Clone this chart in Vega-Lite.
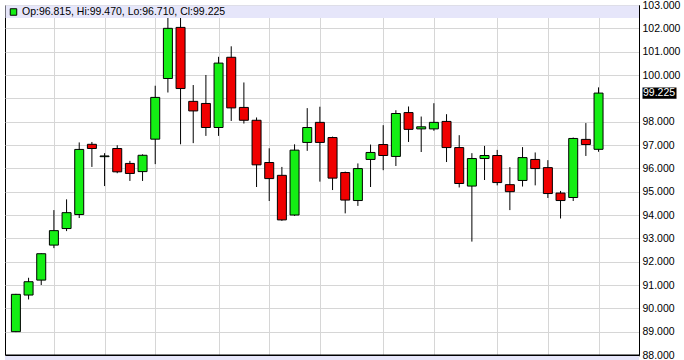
{
  "$schema": "https://vega.github.io/schema/vega-lite/v6.json",
  "width": 634,
  "height": 350,
  "autosize": {"type": "none"},
  "padding": {"left": 5, "top": 5, "right": 45, "bottom": 5},
  "background": "white",
  "config": {"view": {"stroke": "black", "strokeWidth": 1}, "font": "Liberation Sans"},
  "datasets": {
    "ohlc": [
      {"i": 0, "o": 89.00, "h": 90.62, "l": 88.98, "c": 90.60},
      {"i": 1, "o": 90.57, "h": 91.31, "l": 90.38, "c": 91.14},
      {"i": 2, "o": 91.21, "h": 92.36, "l": 91.00, "c": 92.34},
      {"i": 3, "o": 92.71, "h": 94.21, "l": 92.58, "c": 93.33},
      {"i": 4, "o": 93.42, "h": 94.67, "l": 93.31, "c": 94.10},
      {"i": 5, "o": 94.02, "h": 97.11, "l": 93.87, "c": 96.81},
      {"i": 6, "o": 97.03, "h": 97.13, "l": 96.06, "c": 96.85},
      {"i": 7, "o": 96.50, "h": 96.65, "l": 95.24, "c": 96.53},
      {"i": 8, "o": 96.85, "h": 96.99, "l": 95.79, "c": 95.85},
      {"i": 9, "o": 96.21, "h": 96.32, "l": 95.46, "c": 95.78},
      {"i": 10, "o": 95.86, "h": 96.60, "l": 95.46, "c": 96.56},
      {"i": 11, "o": 97.25, "h": 99.54, "l": 96.18, "c": 99.04},
      {"i": 12, "o": 99.85, "h": 102.45, "l": 99.25, "c": 102.00},
      {"i": 13, "o": 102.04, "h": 102.55, "l": 97.03, "c": 99.42},
      {"i": 14, "o": 98.87, "h": 99.57, "l": 97.08, "c": 98.46},
      {"i": 15, "o": 98.78, "h": 100.00, "l": 97.39, "c": 97.75},
      {"i": 16, "o": 97.75, "h": 100.78, "l": 97.39, "c": 100.51},
      {"i": 17, "o": 100.76, "h": 101.23, "l": 98.03, "c": 98.59},
      {"i": 18, "o": 98.61, "h": 99.68, "l": 97.92, "c": 98.06},
      {"i": 19, "o": 98.06, "h": 98.18, "l": 95.20, "c": 96.15},
      {"i": 20, "o": 96.25, "h": 96.86, "l": 94.60, "c": 95.56},
      {"i": 21, "o": 95.70, "h": 96.06, "l": 93.75, "c": 93.79},
      {"i": 22, "o": 94.00, "h": 97.03, "l": 93.96, "c": 96.78},
      {"i": 23, "o": 97.11, "h": 98.58, "l": 96.75, "c": 97.75},
      {"i": 24, "o": 97.97, "h": 98.64, "l": 95.43, "c": 97.11},
      {"i": 25, "o": 97.32, "h": 97.36, "l": 95.07, "c": 95.58},
      {"i": 26, "o": 95.82, "h": 95.86, "l": 94.07, "c": 94.64},
      {"i": 27, "o": 94.62, "h": 96.21, "l": 94.39, "c": 95.99},
      {"i": 28, "o": 96.38, "h": 97.02, "l": 95.20, "c": 96.68},
      {"i": 29, "o": 97.02, "h": 97.85, "l": 95.92, "c": 96.55},
      {"i": 30, "o": 96.51, "h": 98.49, "l": 96.10, "c": 98.35},
      {"i": 31, "o": 98.39, "h": 98.65, "l": 97.13, "c": 97.67},
      {"i": 32, "o": 97.69, "h": 98.22, "l": 96.70, "c": 97.78},
      {"i": 33, "o": 97.69, "h": 98.79, "l": 97.61, "c": 97.97},
      {"i": 34, "o": 98.01, "h": 98.32, "l": 96.27, "c": 96.89},
      {"i": 35, "o": 96.89, "h": 97.42, "l": 95.18, "c": 95.35},
      {"i": 36, "o": 95.24, "h": 96.65, "l": 92.86, "c": 96.42},
      {"i": 37, "o": 96.42, "h": 96.96, "l": 95.50, "c": 96.55},
      {"i": 38, "o": 96.55, "h": 96.79, "l": 95.27, "c": 95.39},
      {"i": 39, "o": 95.30, "h": 96.05, "l": 94.21, "c": 95.00},
      {"i": 40, "o": 95.48, "h": 96.91, "l": 95.22, "c": 96.46},
      {"i": 41, "o": 96.38, "h": 96.68, "l": 95.27, "c": 95.99},
      {"i": 42, "o": 96.03, "h": 96.35, "l": 94.73, "c": 94.92},
      {"i": 43, "o": 94.94, "h": 95.03, "l": 93.85, "c": 94.62},
      {"i": 44, "o": 94.75, "h": 97.32, "l": 94.60, "c": 97.28},
      {"i": 45, "o": 97.24, "h": 97.94, "l": 96.53, "c": 97.02},
      {"i": 46, "o": 96.815, "h": 99.47, "l": 96.71, "c": 99.225}
    ],
    "one": [{"label": "Op:96.815, Hi:99.470, Lo:96.710, Cl:99.225"}]
  },
  "data": {"name": "ohlc"},
  "layer": [
    {
      "mark": {"type": "rule", "color": "black", "strokeWidth": 1},
      "encoding": {
        "x": {
          "field": "i", "type": "quantitative",
          "scale": {"domain": [-0.466, 48.8], "nice": false, "zero": false},
          "axis": {"orient": "bottom", "values": [3, 7, 11, 16, 20, 24, 29, 33, 38, 42, 46], "grid": true, "gridColor": "#d6d6d6", "labels": false, "ticks": false, "title": null, "domainColor": "black", "domainWidth": 2}
        },
        "y": {
          "field": "l", "type": "quantitative",
          "scale": {"domain": [88, 103], "nice": false, "zero": false},
          "axis": {"orient": "right", "values": [88, 89, 90, 91, 92, 93, 94, 95, 96, 97, 98, 99, 100, 101, 102, 103], "grid": true, "gridColor": "#d6d6d6", "title": null, "domainColor": "black", "ticks": false, "labelPadding": 3, "labelFontSize": 10.5, "labelColor": "black", "labelFont": "Liberation Sans", "labelOverlap": false, "labelExpr": "datum.value == 99 ? '' : format(datum.value, '.3f')"}
        },
        "y2": {"field": "h"}
      }
    },
    {
      "mark": {"type": "bar", "size": 9, "stroke": "black", "strokeWidth": 1},
      "encoding": {
        "x": {
          "field": "i", "type": "quantitative",
          "scale": {"domain": [-0.466, 48.8], "nice": false, "zero": false},
          "axis": {"orient": "bottom", "values": [3, 7, 11, 16, 20, 24, 29, 33, 38, 42, 46], "grid": true, "gridColor": "#d6d6d6", "labels": false, "ticks": false, "title": null, "domainColor": "black", "domainWidth": 2}
        },
        "y": {
          "field": "o", "type": "quantitative",
          "scale": {"domain": [88, 103], "nice": false, "zero": false},
          "axis": {"orient": "right", "values": [88, 89, 90, 91, 92, 93, 94, 95, 96, 97, 98, 99, 100, 101, 102, 103], "grid": true, "gridColor": "#d6d6d6", "title": null, "domainColor": "black", "ticks": false, "labelPadding": 3, "labelFontSize": 10.5, "labelColor": "black", "labelFont": "Liberation Sans", "labelOverlap": false, "labelExpr": "datum.value == 99 ? '' : format(datum.value, '.3f')"}
        },
        "y2": {"field": "c"},
        "color": {"condition": {"test": "datum.c >= datum.o", "value": "#14ee14"}, "value": "#f00000"}
      }
    },
    {
      "data": {"name": "one"},
      "mark": {"type": "rect", "color": "#e6e6fa"},
      "encoding": {"x": {"value": 0.5}, "x2": {"value": "width"}, "y": {"value": 0.5}, "y2": {"value": 13}}
    },
    {
      "data": {"name": "one"},
      "mark": {"type": "point", "shape": "square", "filled": true, "fill": "#14ee14", "stroke": "black", "strokeWidth": 1, "size": 42, "opacity": 1},
      "encoding": {"x": {"value": 8.5}, "y": {"value": 7}}
    },
    {
      "data": {"name": "one"},
      "mark": {"type": "text", "align": "left", "baseline": "middle", "fontSize": 10.5, "color": "black", "font": "Liberation Sans"},
      "encoding": {"x": {"value": 17}, "y": {"value": 7}, "text": {"field": "label"}}
    },
    {
      "data": {"name": "one"},
      "mark": {"type": "rect", "color": "#e6e6fa", "clip": false},
      "encoding": {"x": {"value": 0}, "x2": {"value": "width"}, "y": {"value": {"expr": "height + 1"}}, "y2": {"value": {"expr": "height + 6"}}}
    },
    {
      "transform": [{"filter": "datum.i == 46"}],
      "mark": {"type": "point", "shape": "M-1,-0.33L1,-0.33L1,0.33L-1,0.33Z", "filled": true, "fill": "black", "size": 1156, "opacity": 1, "clip": false},
      "encoding": {
        "x": {"value": {"expr": "width + 20.5"}},
        "y": {
          "field": "c", "type": "quantitative",
          "scale": {"domain": [88, 103], "nice": false, "zero": false},
          "axis": {"orient": "right", "values": [88, 89, 90, 91, 92, 93, 94, 95, 96, 97, 98, 99, 100, 101, 102, 103], "grid": true, "gridColor": "#d6d6d6", "title": null, "domainColor": "black", "ticks": false, "labelPadding": 3, "labelFontSize": 10.5, "labelColor": "black", "labelFont": "Liberation Sans", "labelOverlap": false, "labelExpr": "datum.value == 99 ? '' : format(datum.value, '.3f')"}
        }
      }
    },
    {
      "transform": [{"filter": "datum.i == 46"}],
      "mark": {"type": "text", "align": "left", "baseline": "middle", "fontSize": 10.5, "color": "white", "font": "Liberation Sans", "clip": false},
      "encoding": {
        "x": {"value": {"expr": "width + 4"}},
        "y": {
          "field": "c", "type": "quantitative",
          "scale": {"domain": [88, 103], "nice": false, "zero": false},
          "axis": {"orient": "right", "values": [88, 89, 90, 91, 92, 93, 94, 95, 96, 97, 98, 99, 100, 101, 102, 103], "grid": true, "gridColor": "#d6d6d6", "title": null, "domainColor": "black", "ticks": false, "labelPadding": 3, "labelFontSize": 10.5, "labelColor": "black", "labelFont": "Liberation Sans", "labelOverlap": false, "labelExpr": "datum.value == 99 ? '' : format(datum.value, '.3f')"}
        },
        "text": {"field": "c", "type": "quantitative", "format": ".3f"}
      }
    }
  ]
}
